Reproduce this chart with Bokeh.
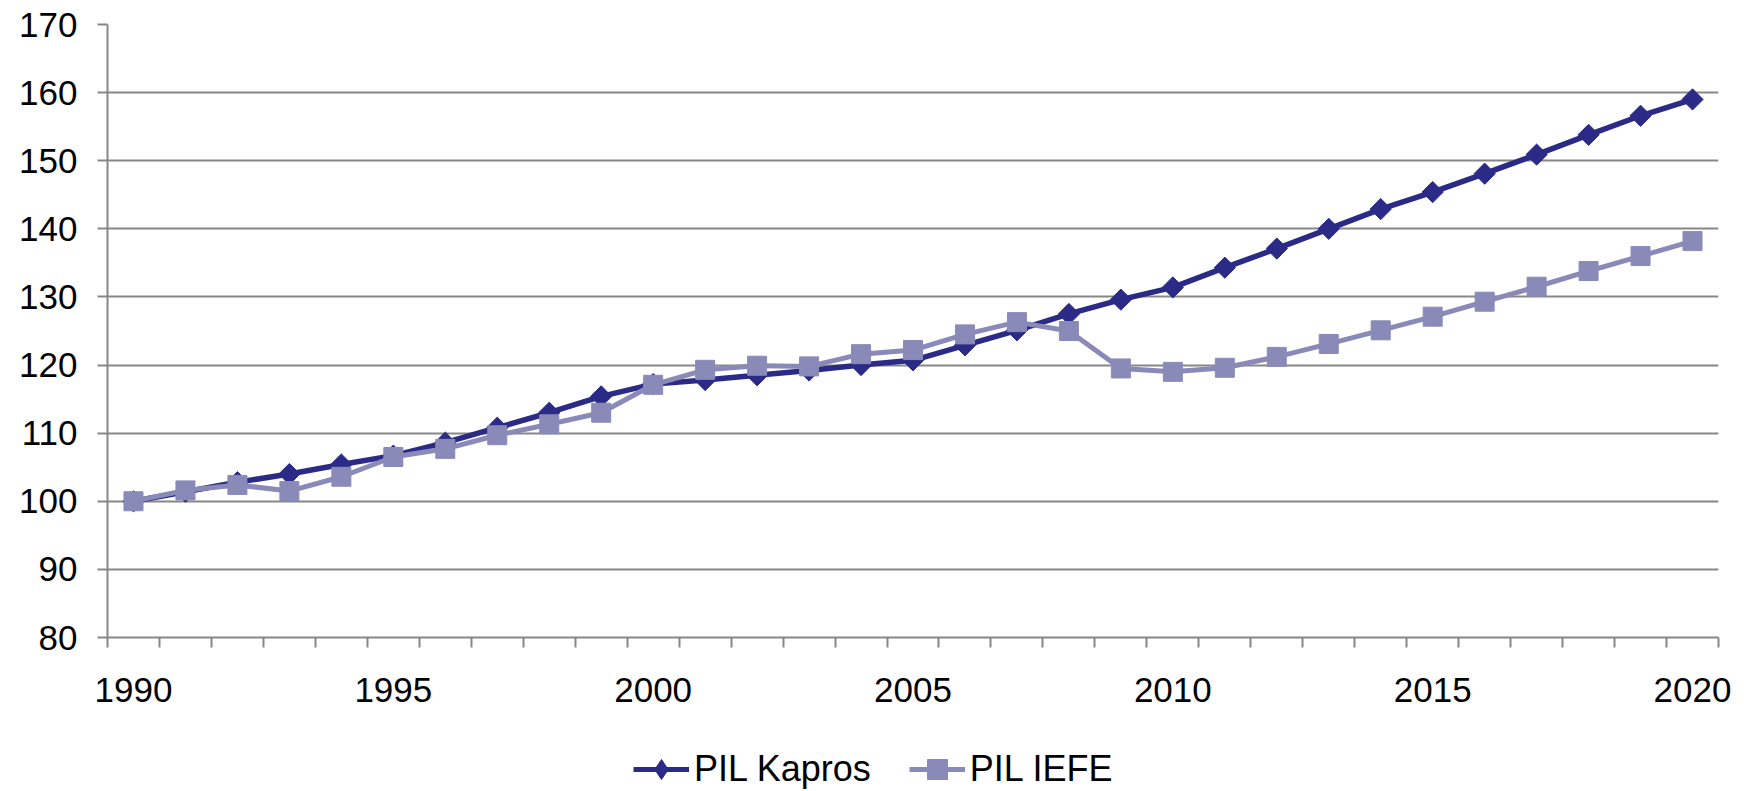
import numpy as np
from bokeh.plotting import figure
from bokeh.layouts import column
from bokeh.models import FixedTicker, Legend, LegendItem, Range1d
from bokeh.embed import file_html
from bokeh.resources import INLINE

years = list(range(1990, 2021))
tick_years = [1990, 1995, 2000, 2005, 2010, 2015, 2020]
y_ticks = [80, 90, 100, 110, 120, 130, 140, 150, 160, 170]

pil_kapros = [100.0, 101.4, 102.8, 104.0, 105.4, 106.7, 108.6, 110.8, 113.0, 115.4,
              117.2, 117.8, 118.5, 119.2, 120.0, 120.7, 122.9, 125.1, 127.5, 129.6,
              131.4, 134.3, 137.1, 140.0, 142.9, 145.4, 148.1, 150.9, 153.8, 156.6, 159.0]
pil_iefe = [100.0, 101.6, 102.4, 101.5, 103.6, 106.5, 107.7, 109.7, 111.3, 113.0,
            117.1, 119.3, 119.9, 119.8, 121.6, 122.2, 124.5, 126.3, 125.0, 119.5,
            119.0, 119.6, 121.2, 123.1, 125.1, 127.1, 129.3, 131.5, 133.8, 136.0, 138.2]

C_KAP = "#2B2B87"
C_IEFE = "#8A8AB9"
GRID = "#878787"
FONT = "Liberation Sans"


p = figure(width=1739, height=720, output_backend="svg", toolbar_location=None,
           x_range=Range1d(years[0] - 0.5, years[-1] + 0.5),
           y_range=Range1d(80, 170),
           min_border_left=107, min_border_right=21, min_border_top=24, min_border_bottom=83)
p.outline_line_color = None
p.xgrid.grid_line_color = None
p.ygrid.grid_line_color = GRID
p.ygrid.grid_line_width = 2
p.ygrid.ticker = FixedTicker(ticks=y_ticks)

# x axis: labels at category centers, tick marks at category boundaries
bounds = [y - 0.5 for y in years] + [years[-1] + 0.5]
p.xaxis.ticker = FixedTicker(ticks=tick_years, minor_ticks=bounds)
p.xaxis.major_tick_out = 0
p.xaxis.major_tick_in = 0
p.xaxis.minor_tick_out = 10
p.xaxis.minor_tick_in = 0
p.xaxis.minor_tick_line_color = GRID
p.xaxis.minor_tick_line_width = 2
p.xaxis.axis_line_color = GRID
p.xaxis.axis_line_width = 2
p.xaxis.major_label_text_font = FONT
p.xaxis.major_label_text_font_size = "35px"
p.xaxis.major_label_text_color = "black"
p.xaxis.major_label_standoff = 30

p.yaxis.ticker = FixedTicker(ticks=y_ticks)
p.yaxis.major_tick_out = 10
p.yaxis.major_tick_in = 0
p.yaxis.minor_tick_line_color = None
p.yaxis.major_tick_line_color = GRID
p.yaxis.major_tick_line_width = 2
p.yaxis.axis_line_color = GRID
p.yaxis.axis_line_width = 2
p.yaxis.major_label_text_font = FONT
p.yaxis.major_label_text_font_size = "35px"
p.yaxis.major_label_text_color = "black"
p.yaxis.major_label_standoff = 20

p.line(years, pil_kapros, line_color=C_KAP, line_width=5.5, line_join="round")
p.scatter(years, pil_kapros, marker="square", angle=np.pi / 4, size=15,
          fill_color=C_KAP, line_color=C_KAP)
p.line(years, pil_iefe, line_color=C_IEFE, line_width=5, line_join="round")
p.scatter(years, pil_iefe, marker="square", size=19,
          fill_color=C_IEFE, line_color=C_IEFE)

# legend strip below the chart (its own figure, series kept out of view)
pl = figure(width=1739, height=70, output_backend="svg", toolbar_location=None,
            x_axis_type=None, y_axis_type=None,
            x_range=Range1d(0, 1), y_range=Range1d(0, 1),
            min_border_left=0, min_border_right=0, min_border_top=0, min_border_bottom=0)
pl.outline_line_color = None
k_line = pl.line(years, pil_kapros, line_color=C_KAP, line_width=5)
k_mark = pl.scatter(years, pil_kapros, marker="diamond", size=20,
                    fill_color=C_KAP, line_color=C_KAP)
i_line = pl.line(years, pil_iefe, line_color=C_IEFE, line_width=5)
i_mark = pl.scatter(years, pil_iefe, marker="square", size=20,
                    fill_color=C_IEFE, line_color=C_IEFE)

legend = Legend(items=[LegendItem(label="PIL Kapros", renderers=[k_line, k_mark]),
                       LegendItem(label="PIL IEFE", renderers=[i_line, i_mark])],
                orientation="horizontal", location=(526, -4),
                padding=0, margin=0, spacing=38, label_standoff=5,
                glyph_width=56, glyph_height=50, label_height=34,
                label_text_font=FONT, label_text_font_size="36px",
                label_text_color="black",
                border_line_color=None, background_fill_alpha=0)
pl.add_layout(legend, "center")

layout = column(p, pl, spacing=0)
open("out.html", "w").write(file_html(layout, INLINE))
